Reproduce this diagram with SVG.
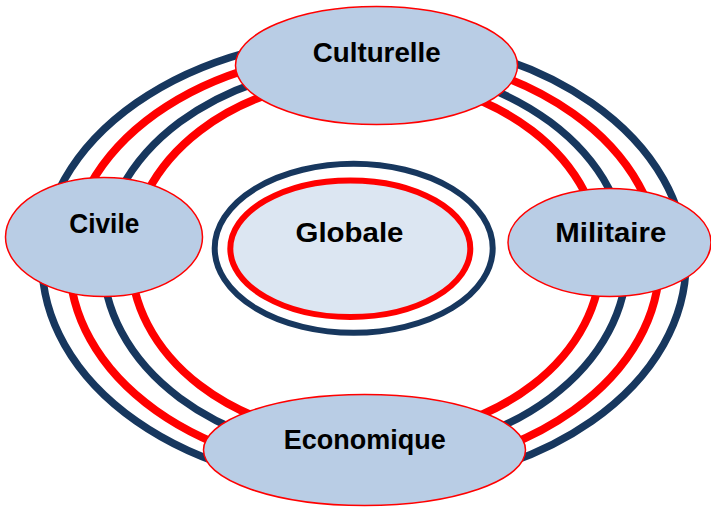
<svg xmlns="http://www.w3.org/2000/svg" width="711" height="507" viewBox="0 0 711 507">
<style>
.navy{fill:none;stroke:#17375E;stroke-width:7.5}
.red{fill:none;stroke:#FF0000;stroke-width:8}
.node{fill:#B9CDE5;stroke:#FF0000;stroke-width:1.5}
.lbl{font-family:"Liberation Sans",Arial,sans-serif;font-weight:bold;font-size:28.5px;fill:#000;text-anchor:middle}
</style>
<rect width="711" height="507" fill="#FFFFFF"/>
<g id="connectors">
<ellipse class="navy" cx="364" cy="262" rx="322" ry="225"/>
<ellipse class="red" cx="364.5" cy="262" rx="295" ry="210"/>
<ellipse class="navy" cx="365" cy="260" rx="262" ry="195"/>
<ellipse class="red" cx="366" cy="258" rx="235" ry="180"/>
</g>
<g id="globale">
<ellipse cx="353.7" cy="248.3" rx="139" ry="84.5" fill="none" stroke="#17375E" stroke-width="6"/>
<ellipse cx="350.3" cy="248.7" rx="120" ry="68.3" fill="#DCE6F2" stroke="#FF0000" stroke-width="6"/>
<text class="lbl" x="349.5" y="242" textLength="108" lengthAdjust="spacingAndGlyphs">Globale</text>
</g>
<g id="culturelle">
<ellipse class="node" cx="376.5" cy="65.5" rx="141" ry="59"/>
<text class="lbl" x="376.7" y="61.5" textLength="128" lengthAdjust="spacingAndGlyphs">Culturelle</text>
</g>
<g id="civile">
<ellipse class="node" cx="104" cy="237" rx="98.5" ry="59.5"/>
<text class="lbl" x="104.3" y="232.5" textLength="70" lengthAdjust="spacingAndGlyphs">Civile</text>
</g>
<g id="militaire">
<ellipse class="node" cx="609.5" cy="242.5" rx="101.5" ry="54"/>
<text class="lbl" x="610.8" y="242" textLength="111" lengthAdjust="spacingAndGlyphs">Militaire</text>
</g>
<g id="economique">
<ellipse class="node" cx="364.5" cy="450" rx="161" ry="55.5"/>
<text class="lbl" x="364.7" y="448.5" textLength="162" lengthAdjust="spacingAndGlyphs">Economique</text>
</g>
</svg>
